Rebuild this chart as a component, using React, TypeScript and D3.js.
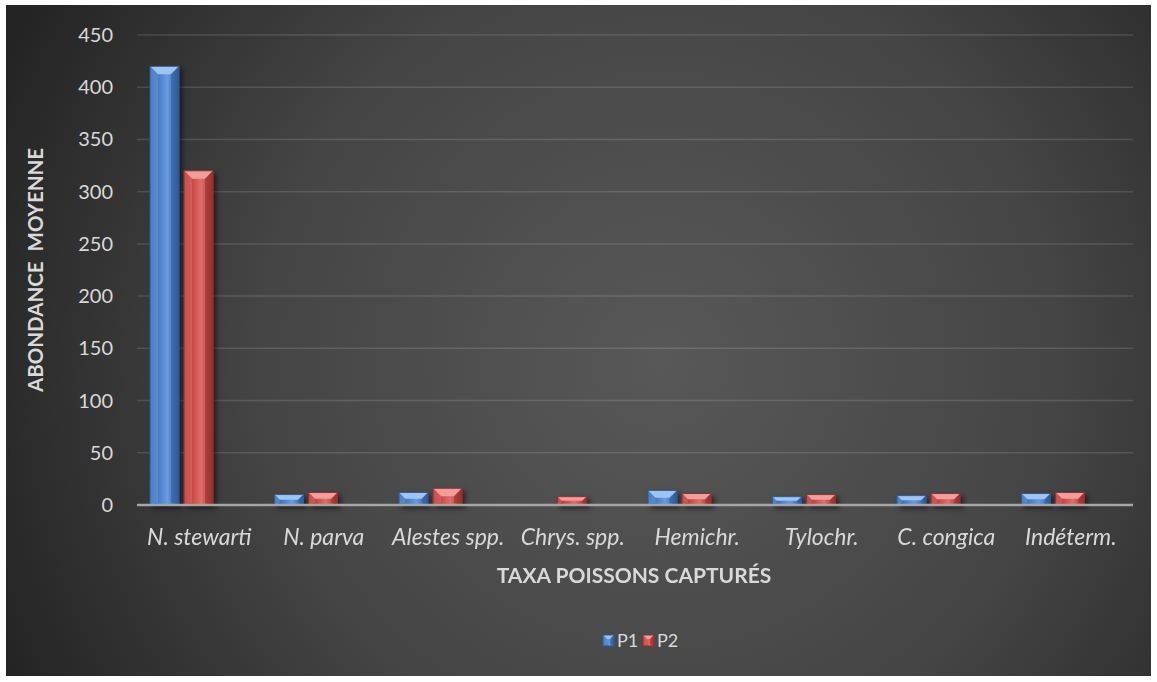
import React from "react";
import * as d3 from "d3";

const W = 1157;
const H = 682;

const categories = ["N. stewarti", "N. parva", "Alestes spp.", "Chrys. spp.", "Hemichr.", "Tylochr.", "C. congica", "Indéterm."];
const seriesNames = ["P1", "P2"];
const p1Values = [420, 10, 12, 0, 14, 8, 9, 11];
const p2Values = [320, 12, 16, 8, 11, 10, 11, 12];
const yTicks = [0, 50, 100, 150, 200, 250, 300, 350, 400, 450];

const FONT = "Lato, 'Open Sans', sans-serif";
const TXT = "#d9d9d9";

const palette: Record<string, { base: string; light: string; dark: string; top: string }> = {
  P1: { base: "#4a7dc9", light: "#6a9be0", dark: "#2f5a99", top: "#9cc4f5" },
  P2: { base: "#cc4b48", light: "#e06d6a", dark: "#982e2c", top: "#f29d9a" },
};

const Bevel = ({ x, y, w, h, s }: { x: number; y: number; w: number; h: number; s: string }) => {
  if (h <= 0) return null;
  const c = palette[s];
  const b = Math.min(8, h / 2, w / 2.6);
  const x1 = x + w;
  const y1 = y + h;
  return (
    <g>
      <rect x={x} y={y} width={w} height={h} fill={`url(#grad-${s})`} />
      {/* top chamfer */}
      <polygon points={`${x},${y} ${x1},${y} ${x1 - b},${y + b} ${x + b},${y + b}`} fill={c.top} />
      {/* left side */}
      <polygon points={`${x},${y} ${x + b},${y + b} ${x + b},${y1 - Math.min(b, 2)} ${x},${y1}`} fill={c.light} opacity={0.55} />
      {/* right side */}
      <polygon points={`${x1},${y} ${x1 - b},${y + b} ${x1 - b},${y1 - Math.min(b, 2)} ${x1},${y1}`} fill={c.dark} opacity={0.55} />
      <rect x={x} y={y} width={w} height={h} fill="none" stroke={c.dark} strokeWidth={1} />
    </g>
  );
};

export default function App() {
  const y = d3.scaleLinear().domain([0, 450]).range([505, 35]);
  const x = d3.scaleBand().domain(categories).range([137, 1133]);
  const inner = d3.scaleBand().domain(seriesNames).range([0, 63]).paddingInner(0.15);
  const groupOffset = 13;
  const values: Record<string, number[]> = { P1: p1Values, P2: p2Values };

  return (
    <svg width={W} height={H} style={{ position: "absolute", left: 0, top: 0 }} fontFamily={FONT}>
      <defs>
        <radialGradient id="bg" cx="660" cy="360" r="720" gradientUnits="userSpaceOnUse">
          <stop offset="0" stopColor="#585858" />
          <stop offset="0.55" stopColor="#454545" />
          <stop offset="1" stopColor="#242424" />
        </radialGradient>
        {seriesNames.map((s) => (
          <linearGradient key={s} id={`grad-${s}`} x1="0" x2="1" y1="0" y2="0">
            <stop offset="0" stopColor={palette[s].dark} />
            <stop offset="0.3" stopColor={palette[s].base} />
            <stop offset="0.6" stopColor={palette[s].light} />
            <stop offset="1" stopColor={palette[s].dark} />
          </linearGradient>
        ))}
        <filter id="shadow" x="-30%" y="-10%" width="160%" height="130%">
          <feDropShadow dx="3" dy="3" stdDeviation="2.5" floodColor="#000" floodOpacity="0.5" />
        </filter>
      </defs>
      <rect x={0} y={0} width={W} height={H} fill="#fff" />
      <rect x={6} y={5} width={1145} height={671} fill="url(#bg)" />

      {/* gridlines */}
      {yTicks.slice(1).map((t) => (
        <line key={t} x1={137} x2={1133} y1={y(t)} y2={y(t)} stroke="#ffffff" strokeOpacity={0.13} strokeWidth={1.5} />
      ))}

      {/* y tick labels */}
      {yTicks.map((t) => (
        <text key={t} x={113} y={y(t)} dy="0.35em" textAnchor="end" fill={TXT} fontSize={20}>
          {t}
        </text>
      ))}

      {/* bars */}
      <g filter="url(#shadow)">
        {categories.map((c, i) =>
          seriesNames.map((s) => {
            const v = values[s][i];
            const bx = (x(c) as number) + groupOffset + (inner(s) as number);
            return <Bevel key={c + s} x={bx} y={y(v)} w={inner.bandwidth()} h={y(0) - y(v)} s={s} />;
          })
        )}
      </g>

      {/* x axis line */}
      <line x1={137} x2={1133} y1={y(0)} y2={y(0)} stroke="#a6a6a6" strokeWidth={2.5} />

      {/* category labels */}
      {categories.map((c) => (
        <text key={c} x={(x(c) as number) + x.bandwidth() / 2} y={545} textAnchor="middle" fill={TXT} fontSize={23} fontStyle="italic">
          {c}
        </text>
      ))}

      {/* axis titles */}
      <text x={634} y={583} textAnchor="middle" fill={TXT} fontSize={21} fontWeight="bold">
        TAXA POISSONS CAPTURÉS
      </text>
      <text transform="translate(43,270) rotate(-90)" textAnchor="middle" fill={TXT} fontSize={20.5} fontWeight="bold" style={{ whiteSpace: "pre" }}>
        ABONDANCE  MOYENNE
      </text>

      {/* legend */}
      {seriesNames.map((s, i) => {
        const lx = 603 + i * 40;
        return (
          <g key={s}>
            <Bevel x={lx} y={635} w={11} h={11} s={s} />
            <text x={lx + 14} y={641} dy="0.35em" fill={TXT} fontSize={18}>
              {s}
            </text>
          </g>
        );
      })}
    </svg>
  );
}
